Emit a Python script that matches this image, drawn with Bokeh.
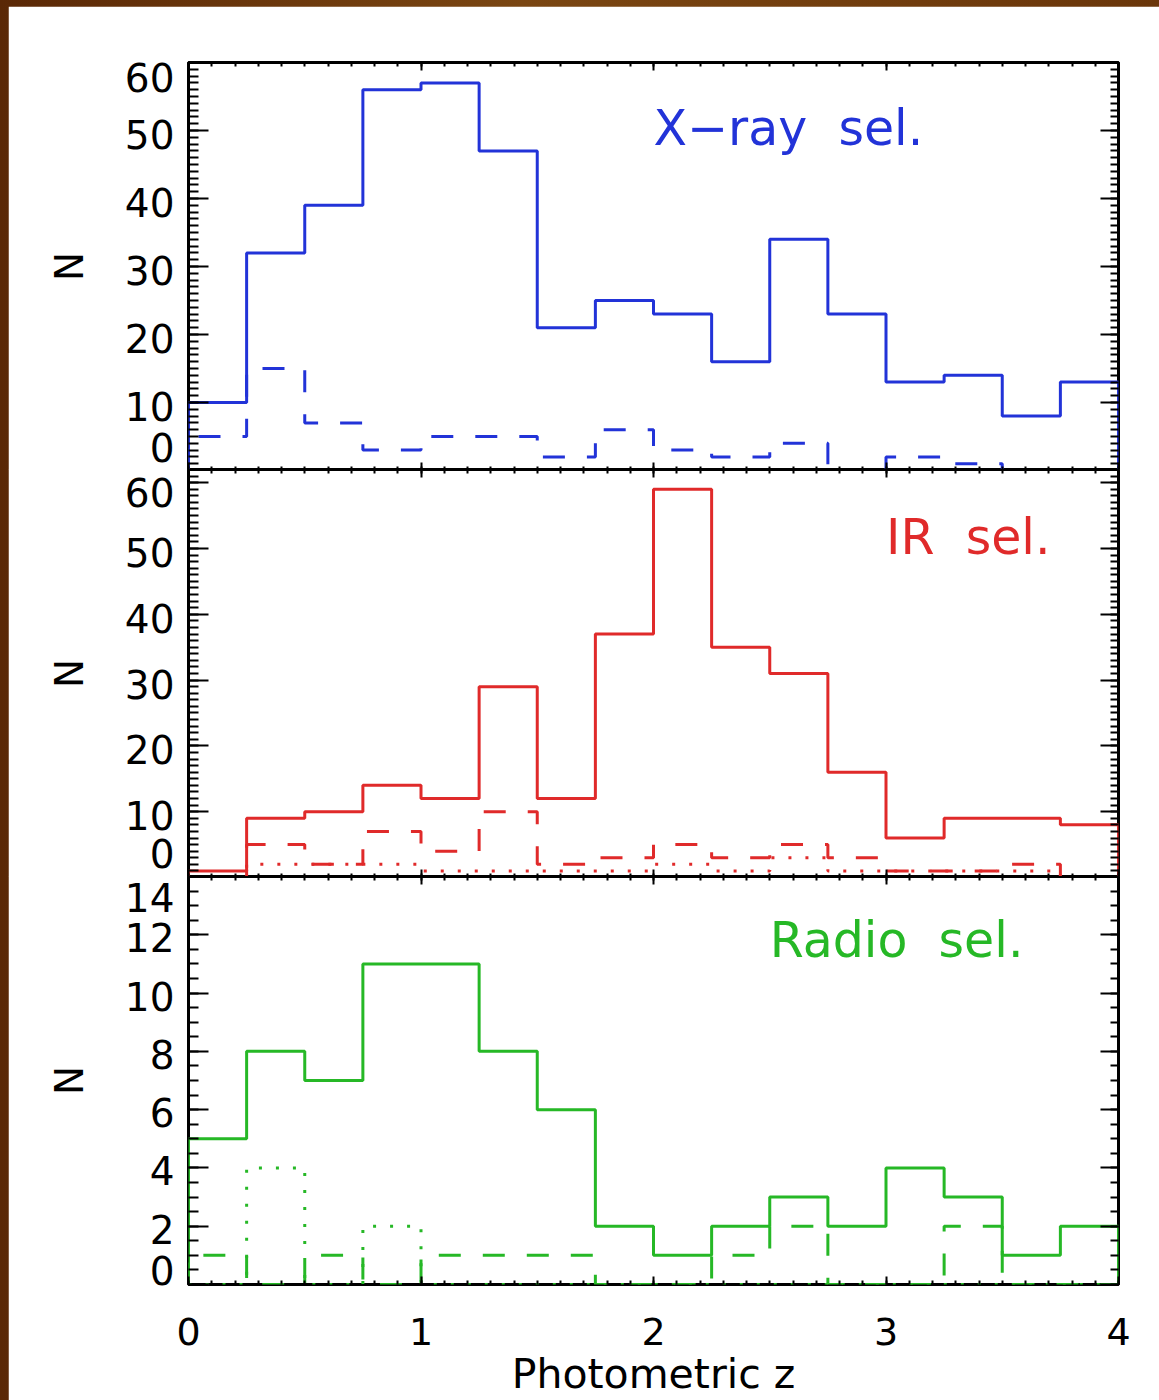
from bokeh.plotting import figure
from bokeh.models import (Range1d, LinearAxis, SingleIntervalTicker, FixedTicker,
                          Label, CustomLabelingPolicy, CustomJSTickFormatter)
from bokeh.layouts import column
from bokeh.embed import file_html
from bokeh.resources import INLINE

# ---------------- data ----------------
bin_edges = [0.0, 0.25, 0.5, 0.75, 1.0, 1.25, 1.5, 1.75, 2.0,
             2.25, 2.5, 2.75, 3.0, 3.25, 3.5, 3.75, 4.0]

xray_solid = [10, 32, 39, 56, 57, 47, 21, 25, 23, 16, 34, 23, 13, 14, 8, 13]
xray_dashed = [5, 15, 7, 3, 5, 5, 2, 6, 3, 2, 4, 0, 2, 1, 0, 0]

ir_solid = [1, 9, 10, 14, 12, 29, 12, 37, 59, 35, 31, 16, 6, 9, 9, 8]
ir_dashed = [0, 5, 2, 7, 4, 10, 2, 3, 5, 3, 5, 3, 1, 1, 2, 0]
ir_dotted = [0, 2, 2, 2, 1, 1, 1, 1, 2, 1, 3, 1, 1, 1, 1, 0]

radio_solid = [5, 8, 7, 11, 11, 8, 6, 2, 1, 2, 3, 2, 4, 3, 1, 2]
radio_dashed = [1, 0, 1, 0, 1, 1, 1, 0, 0, 1, 2, 0, 0, 2, 0, 0]
radio_dotted = [0, 4, 0, 2, 0, 0, 0, 0, 0, 0, 0, 0, 0, 0, 0, 0]

panel_names = ["X\u2212ray\u00a0\u00a0sel.", "IR\u00a0\u00a0sel.", "Radio\u00a0\u00a0sel."]
x_title = "Photometric z"
y_title = "N"

xray_yticks = [0, 10, 20, 30, 40, 50, 60]
ir_yticks = [0, 10, 20, 30, 40, 50, 60]
radio_yticks = [0, 2, 4, 6, 8, 10, 12, 14]

# ---------------- style ----------------
BLUE = "#2233d8"
RED = "#e02a2a"
GREEN = "#26b826"
FONT = "DejaVu Sans"
SOLID_W = 3
DASH = "22 22"
DOT = "3 14"
FRAME_H = 408
# IDL-like placement of the y tick labels: pixels below the tick (end labels pulled inside)
xray_label_shift = [-23, 4, 4, 4, 4, 4, 15]
ir_label_shift = [-24, 4, 4, 4, 4, 4, 10]
radio_label_shift = [-14, 3, 3, 3, 3, 3, 3, 21]


def step_xy(edges, counts):
    xs = [edges[0]] + list(edges[:-1]) + [edges[-1], edges[-1]]
    ys = [0] + list(counts) + [counts[-1], 0]
    return xs, ys


def no_label_policy():
    return CustomLabelingPolicy(code="return new Set()")


def style_axis(ax, tin, tmin):
    ax.axis_line_color = None
    ax.major_tick_in = tin
    ax.major_tick_out = 0
    ax.minor_tick_in = tmin
    ax.minor_tick_out = 0
    ax.major_tick_line_width = 2
    ax.minor_tick_line_width = 2
    ax.major_tick_line_color = "black"
    ax.minor_tick_line_color = "black"


def hide_labels(ax):
    ax.major_label_policy = no_label_policy()
    ax.major_label_text_font_size = "0px"
    ax.major_label_standoff = 0
    ax.axis_label = None


def make_panel(height, ymax, ystep, yminor, top, bottom, show_x,
               yticks, shifts, frame_h):
    p = figure(width=1151, height=height,
               x_range=Range1d(0, 4), y_range=Range1d(0, ymax),
               output_backend="svg", toolbar_location=None,
               x_axis_location=None, y_axis_location=None,
               min_border_left=180, min_border_right=41,
               min_border_top=top, min_border_bottom=bottom)
    p.background_fill_color = "white"
    p.border_fill_color = "white"
    p.outline_line_color = "black"
    p.outline_line_width = 3
    p.xgrid.visible = False
    p.ygrid.visible = False

    xt = SingleIntervalTicker(interval=1, num_minor_ticks=10)
    yt = SingleIntervalTicker(interval=ystep, num_minor_ticks=yminor)

    # inner left axis: tick marks only
    left_ticks = LinearAxis(ticker=yt)
    style_axis(left_ticks, 20, 10)
    hide_labels(left_ticks)
    p.add_layout(left_ticks, "left")

    # outer left axis: the tick labels (placed like the IDL original) and the title
    px_per_unit = frame_h / ymax
    label_pos = [v - s / px_per_unit for v, s in zip(yticks, shifts)]
    left = LinearAxis(ticker=FixedTicker(ticks=label_pos, minor_ticks=[]),
                      axis_label=y_title)
    left.formatter = CustomJSTickFormatter(
        args=dict(step=ystep),
        code="return String(Math.round(tick / step) * step);")
    left.axis_line_color = None
    left.major_tick_in = 0
    left.major_tick_out = 0
    left.minor_tick_in = 0
    left.minor_tick_out = 0
    left.major_label_text_font = FONT
    left.major_label_text_font_size = "39px"
    left.major_label_text_color = "black"
    left.major_label_standoff = 14
    left.axis_label_text_font = FONT
    left.axis_label_text_font_size = "39px"
    left.axis_label_text_font_style = "normal"
    left.axis_label_text_color = "black"
    left.axis_label_standoff = 30
    p.add_layout(left, "left")

    right = LinearAxis(ticker=yt)
    style_axis(right, 18, 8)
    hide_labels(right)
    p.add_layout(right, "right")

    above = LinearAxis(ticker=xt)
    style_axis(above, 8, 4)
    hide_labels(above)
    p.add_layout(above, "above")

    below = LinearAxis(ticker=xt)
    style_axis(below, 8, 4)
    if show_x:
        below.major_label_text_font = FONT
        below.major_label_text_font_size = "38px"
        below.major_label_text_color = "black"
        below.major_label_standoff = 33
        below.axis_label = x_title
        below.axis_label_text_font = FONT
        below.axis_label_text_font_size = "41px"
        below.axis_label_text_font_style = "normal"
        below.axis_label_text_color = "black"
        below.axis_label_standoff = 2
    else:
        hide_labels(below)
    p.add_layout(below, "below")
    return p


def hist(p, counts, color, dash):
    xs, ys = step_xy(bin_edges, counts)
    p.step(xs, ys, mode="after", line_color=color, line_width=SOLID_W,
           line_dash=dash)


def name_label(p, x, y, text, color):
    p.add_layout(Label(x=x, y=y, text=text, text_color=color,
                       text_font=FONT, text_font_size="49px",
                       text_baseline="middle", text_align="left"))


# ---------------- panel 1: X-ray ----------------
p1 = make_panel(464, 60, 10, 10, 56, 0, False, xray_yticks, xray_label_shift, FRAME_H)
hist(p1, xray_dashed, BLUE, DASH)
hist(p1, xray_solid, BLUE, "solid")
name_label(p1, 2.0, 50.3, panel_names[0], BLUE)

# ---------------- panel 2: IR ----------------
p2 = make_panel(408, 62, 10, 10, 0, 0, False, ir_yticks, ir_label_shift, FRAME_H)
hist(p2, ir_dotted, RED, DOT)
hist(p2, ir_dashed, RED, DASH)
hist(p2, ir_solid, RED, "solid")
name_label(p2, 3.0, 51.7, panel_names[1], RED)

# ---------------- panel 3: Radio ----------------
p3 = make_panel(524, 14, 2, 4, 0, 115, True, radio_yticks, radio_label_shift, FRAME_H + 1)
hist(p3, radio_dotted, GREEN, DOT)
hist(p3, radio_dashed, GREEN, DASH)
hist(p3, radio_solid, GREEN, "solid")
name_label(p3, 2.5, 11.8, panel_names[2], GREEN)

p1.margin = (6, 0, 0, 8)
p2.margin = (-1, 0, 0, 8)
p3.margin = (-1, 0, 0, 8)

layout = column(p1, p2, p3, spacing=0,
                styles={"background": "linear-gradient(90deg, #5a2806 0%, #7a4612 45%, #6a360a 100%)"})

open("out.html", "w").write(file_html(layout, INLINE))
